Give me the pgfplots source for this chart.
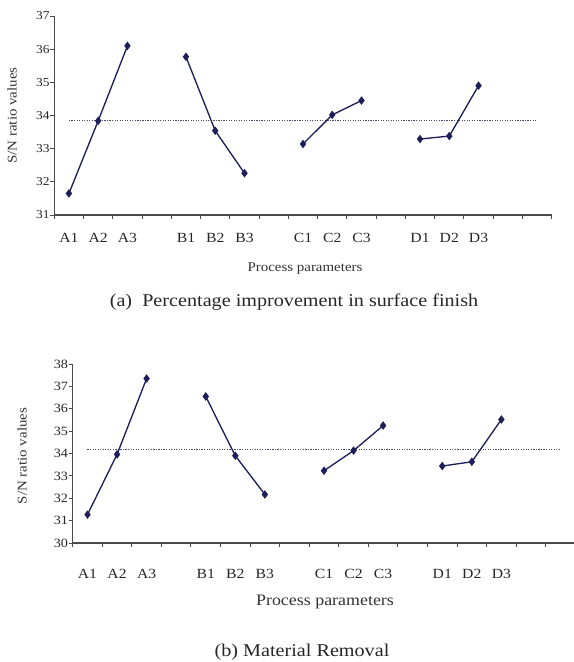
\documentclass[border=0pt]{standalone}
\usepackage{fontspec}
\setmainfont{Liberation Serif}[FakeStretch=1.12]
\usepackage{pgfplots}
\pgfplotsset{compat=1.18}
\definecolor{navy}{HTML}{1E1E5A}
\definecolor{axgray}{HTML}{4A4A4A}
\pgfplotsset{
  sn/.style={
    scale only axis,
    axis x line*=bottom, axis y line*=left,
    axis line style={axgray, line width=0.8pt, -},
    xmin=-0.5, xmax=16.5,
    xtick={0,1,2,4,5,6,8,9,10,12,13,14},
    xticklabels={A1,A2,A3,B1,B2,B3,C1,C2,C3,D1,D2,D3},
    minor xtick={-0.5,0.5,...,16.5},
    major tick length=0pt, minor tick length=3pt,
    tick align=outside,
    tick style={axgray, line width=0.7pt},
    /pgf/number format/assume math mode=true,
    xticklabel style={font=\fontsize{10.5}{12}\selectfont, text=black!85},
    yticklabel style={font=\fontsize{9}{10}\selectfont, text=black!85},
    every axis y label/.style={font=\fontsize{10}{12}\selectfont, text=black!80, rotate=90, anchor=center},
    clip=false,
  },
  series/.style={navy, line width=1pt, mark=diamond*, mark size=2.4pt, mark options={fill=navy, draw=navy}},
  meanline/.style={navy!55!gray, densely dotted, line width=0.9pt},
}
\begin{document}
\begin{tikzpicture}
% ---------- Panel (a) ----------
\begin{axis}[sn,
  at={(40.73pt,335.25pt)}, anchor=south west,
  width=373.05pt, height=149.25pt,
  ymin=31, ymax=37, ytick={31,...,37}, minor ytick={31,...,37},
  xticklabel style={yshift=-10pt},
  ylabel={S/N ratio values},
  every axis y label/.append style={at={(axis description cs:-0.085,0.5)}},
]
\addplot[meanline] coordinates {(0,33.85) (16,33.85)};
\addplot[series] coordinates {(0,31.65) (1,33.84) (2,36.10)};
\addplot[series] coordinates {(4,35.77) (5,33.54) (6,32.26)};
\addplot[series] coordinates {(8,33.14) (9,34.02) (10,34.45)};
\addplot[series] coordinates {(12,33.29) (13,33.38) (14,34.90)};
\end{axis}
\node[font=\fontsize{10}{12}\selectfont, text=black!80] at (228.75pt,295pt) {Process parameters};
\node[font=\fontsize{13.5}{16}\selectfont, text=black!85] at (220.5pt,270pt) {(a)\ \ Percentage improvement in surface finish};
% ---------- Panel (b) ----------
\begin{axis}[sn,
  at={(54.53pt,89.25pt)}, anchor=south west,
  width=376.95pt, height=134.25pt,
  ymin=30, ymax=38, ytick={30,...,38}, minor ytick={30,...,38},
  xticklabel style={yshift=-16pt},
  ylabel={S/N ratio values},
  yticklabel style={font=\fontsize{9.5}{10}\selectfont},
  every axis y label/.append style={at={(axis description cs:-0.101,0.486)}},
]
\addplot[meanline] coordinates {(0,34.17) (16,34.17)};
\addplot[series] coordinates {(0,31.27) (1,33.96) (2,37.35)};
\addplot[series] coordinates {(4,36.55) (5,33.90) (6,32.17)};
\addplot[series] coordinates {(8,33.23) (9,34.13) (10,35.25)};
\addplot[series] coordinates {(12,33.44) (13,33.63) (14,35.52)};
\end{axis}
\node[font=\fontsize{12}{14}\selectfont, text=black!80] at (243.75pt,45pt) {Process parameters};
\node[font=\fontsize{13.5}{16}\selectfont, text=black!85] at (226.5pt,7.5pt) {(b) Material Removal};
\pgfresetboundingbox
\path[use as bounding box] (0,0) rectangle (430.5pt,496.5pt);
\end{tikzpicture}
\end{document}
